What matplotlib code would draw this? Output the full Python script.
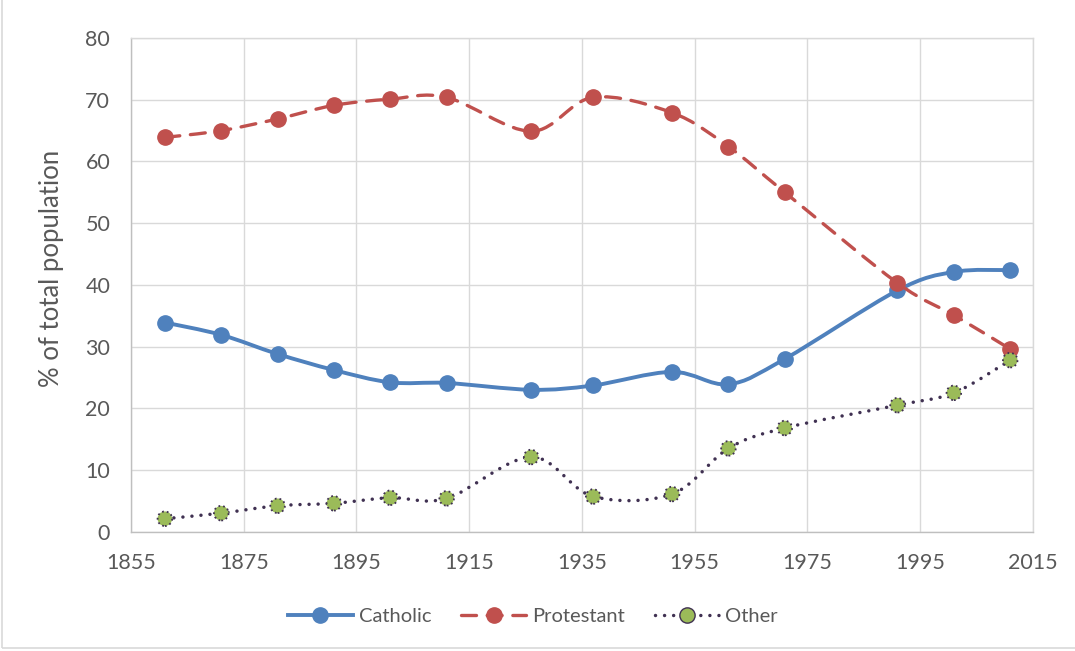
import numpy as np
import matplotlib
matplotlib.use('Agg')
import matplotlib.pyplot as plt
from matplotlib.path import Path
from matplotlib.patches import PathPatch, Rectangle
from matplotlib.lines import Line2D

years = [1861, 1871, 1881, 1891, 1901, 1911, 1926, 1937, 1951, 1961, 1971, 1991, 2001, 2011]
catholic = [33.9, 31.9, 28.8, 26.2, 24.2, 24.1, 23.0, 23.7, 25.9, 23.9, 28.0, 39.1, 42.1, 42.4]
protestant = [63.9, 65.0, 66.9, 69.1, 70.1, 70.4, 64.9, 70.4, 67.9, 62.4, 55.0, 40.3, 35.1, 29.6]
other = [2.1, 3.0, 4.2, 4.6, 5.5, 5.4, 12.1, 5.7, 6.1, 13.5, 16.8, 20.5, 22.5, 27.8]

plt.rcParams['font.family'] = ['Lato', 'DejaVu Sans']
GREY = '#595959'


def smooth_path(xs, ys):
    # excel-like smoothed line: catmull-rom converted to cubic bezier
    pts = np.column_stack([xs, ys]).astype(float)
    n = len(pts)
    verts = [pts[0]]
    codes = [Path.MOVETO]
    for i in range(n - 1):
        p0 = pts[max(i - 1, 0)]
        p1 = pts[i]
        p2 = pts[i + 1]
        p3 = pts[min(i + 2, n - 1)]
        verts += [p1 + (p2 - p0) / 6, p2 - (p3 - p1) / 6, p2]
        codes += [Path.CURVE4] * 3
    return Path(verts, codes)


fig = plt.figure(figsize=(10.75, 6.51), dpi=100)
fig.patches.append(Rectangle((0.002, 0.004), 1.2, 1.2, transform=fig.transFigure,
                             fill=False, edgecolor='#D9D9D9', linewidth=1.2))
ax = fig.add_axes([0.1219, 0.1833, 0.8388, 0.7582])

series = [
    ('Catholic', catholic, '#4F81BD', '-', '#4F81BD', '#4F81BD', 2.8),
    ('Protestant', protestant, '#C0504D', (0, (4.5, 3.2)), '#C0504D', '#C0504D', 2.4),
    ('Other', other, '#403152', (0, (0.01, 2.6)), '#9BBB59', '#403152', 2.5),
]

handles = []
for i, (name, vals, col, ls, mfc, mec, lw) in enumerate(series):
    patch = PathPatch(smooth_path(years, vals), fill=False, edgecolor=col, linewidth=lw,
                      linestyle=ls, capstyle='round', zorder=3 + i)
    ax.add_patch(patch)
    if name == 'Other':
        ax.scatter(years, vals, s=110, color=mfc, edgecolors=mec, linewidths=1.3,
                   linestyles=':', zorder=3.5 + i)
    else:
        ax.plot(years, vals, linestyle='none', marker='o', markersize=11,
                markerfacecolor=mfc, markeredgecolor=mec, zorder=3.5 + i)
    h = Line2D([], [], color=col, linestyle=ls, linewidth=lw, marker='o', markersize=11,
               markerfacecolor=mfc, markeredgecolor=mec, markeredgewidth=1.0,
               dash_capstyle='round')
    handles.append(h)

ax.set_xlim(1855, 2015)
ax.set_ylim(0, 80)
ax.set_xticks(range(1855, 2016, 20))
ax.set_yticks(range(0, 81, 10))
ax.grid(True, color='#D9D9D9', linewidth=1.0, zorder=0)
ax.set_axisbelow(True)
for s in ['top', 'right']:
    ax.spines[s].set_color('#D9D9D9')
for s in ['left', 'bottom']:
    ax.spines[s].set_color('#BFBFBF')
for s in ax.spines.values():
    s.set_linewidth(1.0)
ax.tick_params(length=0, labelsize=15.5, labelcolor=GREY, pad=15)

fig.text(52 / 1075, 1 - 268 / 651, '% of total population', rotation=90,
         ha='center', va='center', fontsize=18.5, color=GREY)

fig.legend(handles, ['Catholic', 'Protestant', 'Other'], loc='center',
           bbox_to_anchor=(533 / 1075, 1 - 616 / 651), ncol=3, frameon=False,
           fontsize=14.5, labelcolor=GREY, handlelength=3.2, handletextpad=0.3,
           columnspacing=1.5)

fig.savefig('out.png', dpi=100)
